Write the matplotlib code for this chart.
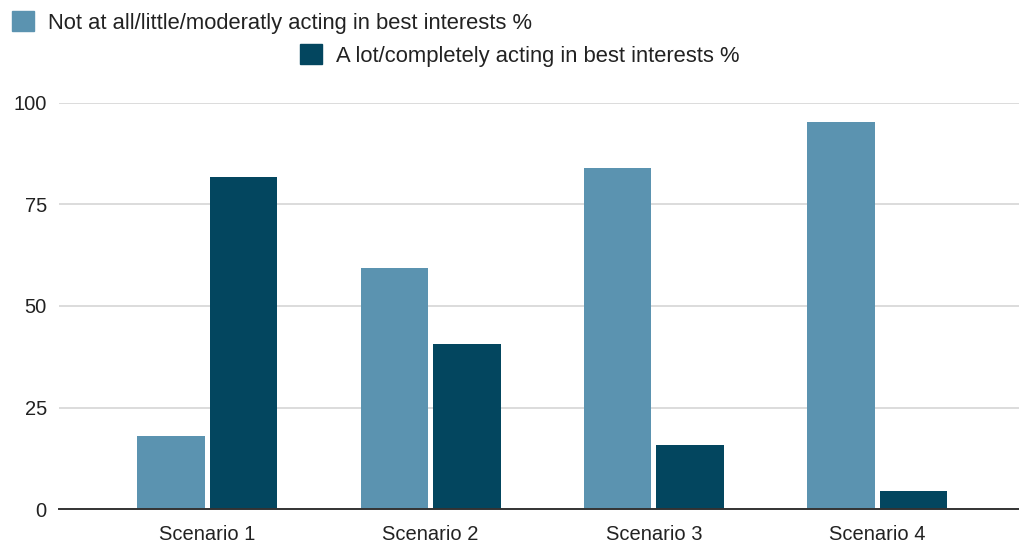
import matplotlib
matplotlib.use("Agg")
import matplotlib.pyplot as plt
import numpy as np
from matplotlib.patches import Patch

categories = ["Scenario 1", "Scenario 2", "Scenario 3", "Scenario 4"]
not_best = [18.1, 59.3, 83.8, 95.3]
best = [81.7, 40.7, 15.9, 4.5]
series_labels = ["Not at all/little/moderatly acting in best interests %",
                 "A lot/completely acting in best interests %"]
yticks = [0, 25, 50, 75, 100]

light = "#5b93b0"
dark = "#03465f"

plt.rcParams['font.family'] = ['Liberation Sans', 'DejaVu Sans']

fig = plt.figure(figsize=(10.19, 5.47), dpi=100)
ax = fig.add_axes([0.0582, 0.069, 1 - 0.0582, 0.7435])

x = np.arange(len(categories))
w = 0.302
off = 0.162
b1 = ax.bar(x - off, not_best, width=w, color=light, zorder=3)
b2 = ax.bar(x + off, best, width=w, color=dark, zorder=3)

ax.set_xlim(-0.663, 3.635)
ax.set_ylim(0, 100)
ax.set_yticks(yticks)
ax.set_xticks(x)
ax.set_xticklabels(categories)
ax.tick_params(axis='both', length=0, colors="#222222")
ax.tick_params(axis='y', pad=9, labelsize=14.5)
ax.tick_params(axis='x', pad=11, labelsize=14.5)
ax.yaxis.grid(True, color="#d9d9d9", linewidth=1.3, zorder=0)
for s in ["top", "right", "left"]:
    ax.spines[s].set_visible(False)
ax.spines["bottom"].set_color("#333333")
ax.spines["bottom"].set_linewidth(1.4)
ax.spines["bottom"].set_zorder(4)

h1 = Patch(facecolor=light, edgecolor=light, label=series_labels[0])
h2 = Patch(facecolor=dark, edgecolor=dark, label=series_labels[1])
common = dict(frameon=False, fontsize=15.8, handlelength=1.0, handleheight=1.0,
              handletextpad=0.62, borderpad=0, borderaxespad=0, labelcolor="#222222")
fig.legend(handles=[h1], loc="center left", bbox_to_anchor=(12 / 1019, 1 - 22.5 / 547), **common)
fig.legend(handles=[h2], loc="center left", bbox_to_anchor=(300 / 1019, 1 - 55.5 / 547), **common)

fig.savefig("out.png", dpi=100, facecolor="white")
